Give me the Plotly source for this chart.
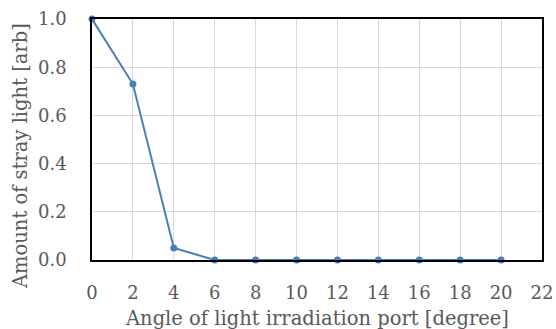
import plotly.graph_objects as go

angles = [0, 2, 4, 6, 8, 10, 12, 14, 16, 18, 20]
stray_light = [1.0, 0.73, 0.05, 0.0, 0.0, 0.0, 0.0, 0.0, 0.0, 0.0, 0.0]
x_ticks = [0, 2, 4, 6, 8, 10, 12, 14, 16, 18, 20, 22]
y_ticks = [0.0, 0.2, 0.4, 0.6, 0.8, 1.0]
x_title = "Angle of light irradiation port [degree]"
y_title = "Amount of stray light [arb]"

font_family = "DejaVu Serif"
gray = "#595959"

fig = go.Figure()
fig.add_trace(go.Scatter(
    x=angles, y=stray_light, mode="lines+markers",
    line=dict(color="#4A7EBB", width=2),
    marker=dict(color="#4A7EBB", size=7),
    cliponaxis=False, showlegend=False,
))

fig.update_layout(
    width=556, height=329,
    margin=dict(l=92, r=14, t=19, b=69),
    paper_bgcolor="white", plot_bgcolor="white",
    font=dict(family=font_family, color=gray, size=18),
    xaxis=dict(
        range=[0, 22], tickvals=x_ticks, ticktext=[str(v) for v in x_ticks],
        showgrid=True, gridcolor="#D9D9D9", gridwidth=1,
        showline=True, linecolor="black", linewidth=1.5, mirror=True,
        zeroline=False, ticks="", ticklabelstandoff=16, automargin=False,
        tickfont=dict(size=18, color=gray),
    ),
    yaxis=dict(
        range=[0, 1.0], tickvals=y_ticks, ticktext=[f"{v:.1f}" for v in y_ticks],
        showgrid=True, gridcolor="#D9D9D9", gridwidth=1,
        showline=True, linecolor="black", linewidth=1.5, mirror=True,
        zeroline=False, ticks="", ticklabelstandoff=20, automargin=False,
        tickfont=dict(size=18, color=gray),
    ),
    annotations=[
        dict(text=x_title, xref="paper", yref="paper", x=0.5, y=(260 - 318) / 241,
             xanchor="center", yanchor="middle", showarrow=False,
             font=dict(size=19.5, color=gray, family=font_family)),
        dict(text=y_title, xref="paper", yref="paper", x=(20 - 92) / 450, y=(260 - 156) / 241,
             xanchor="center", yanchor="middle", textangle=-90, showarrow=False,
             font=dict(size=19.5, color=gray, family=font_family)),
    ],
)

fig.write_html("out.html")
